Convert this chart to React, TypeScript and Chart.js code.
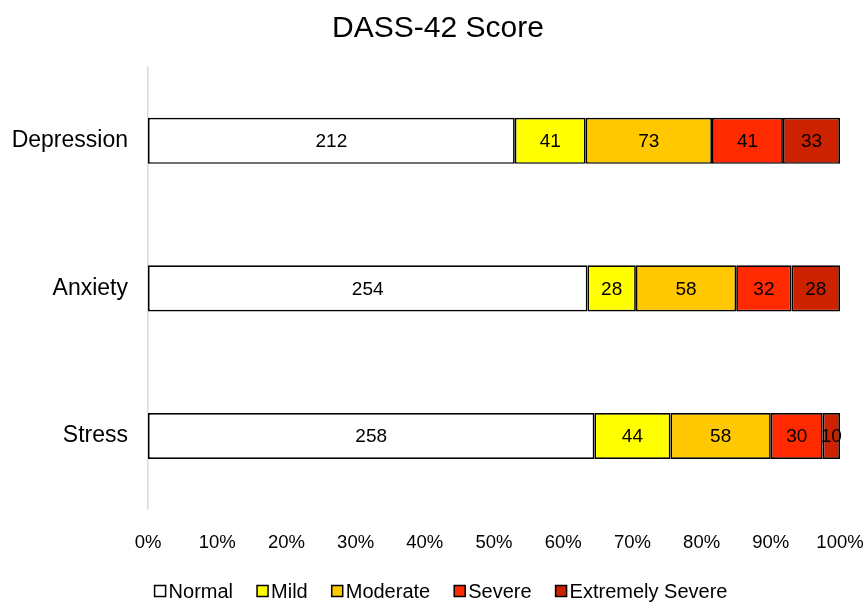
import React, { useEffect, useRef } from "react";
import { Chart, registerables } from "chart.js";

Chart.register(...registerables);

const titleText = "DASS-42 Score";
const categories = ["Depression", "Anxiety", "Stress"];
const seriesNames = ["Normal", "Mild", "Moderate", "Severe", "Extremely Severe"];
const normal = [212, 254, 258];
const mild = [41, 28, 44];
const moderate = [73, 58, 58];
const severe = [41, 32, 30];
const extremelySevere = [33, 28, 10];
const seriesColors = ["#FFFFFF", "#FFFF00", "#FFC800", "#FF2A00", "#CC2200"];
const xTicks = [0, 10, 20, 30, 40, 50, 60, 70, 80, 90, 100];

const FONT = "'Liberation Sans', Arial, Helvetica, sans-serif";

export default function App() {
  const ref = useRef<HTMLCanvasElement>(null);

  useEffect(() => {
    const series = [normal, mild, moderate, severe, extremelySevere];
    const totals = categories.map((_, i) => series.reduce((s, arr) => s + arr[i], 0));

    const labelPlugin = {
      id: "valueLabels",
      afterDatasetsDraw(chart: any) {
        const ctx = chart.ctx;
        ctx.save();
        ctx.font = `19px ${FONT}`;
        ctx.fillStyle = "#000";
        ctx.textAlign = "center";
        ctx.textBaseline = "middle";
        chart.data.datasets.forEach((ds: any, di: number) => {
          const meta = chart.getDatasetMeta(di);
          meta.data.forEach((el: any, i: number) => {
            const cx = (el.x + el.base) / 2;
            ctx.fillText(String(ds.raw[i]), cx, el.y + 1);
          });
        });
        ctx.restore();
      },
    };

    const titleLegendPlugin = {
      id: "titleAndLegend",
      afterDraw(chart: any) {
        const ctx = chart.ctx;
        ctx.save();
        // title
        ctx.font = `30px ${FONT}`;
        ctx.fillStyle = "#000";
        ctx.textAlign = "center";
        ctx.textBaseline = "middle";
        ctx.fillText(titleText, 438, 29);
        // legend
        ctx.font = `20px ${FONT}`;
        ctx.textAlign = "left";
        const box = 11;
        const gap = 3;
        const spacing = 24;
        const widths = seriesNames.map((n) => ctx.measureText(n).width);
        const total =
          widths.reduce((a, b) => a + b, 0) + seriesNames.length * (box + gap) + (seriesNames.length - 1) * spacing;
        let x = 441 - total / 2;
        const y = 592;
        seriesNames.forEach((n, i) => {
          ctx.fillStyle = seriesColors[i];
          ctx.fillRect(x, y - box / 2 - 1, box, box);
          ctx.strokeStyle = "#000";
          ctx.lineWidth = 1.5;
          ctx.strokeRect(x, y - box / 2 - 1, box, box);
          ctx.fillStyle = "#000";
          ctx.fillText(n, x + box + gap, y);
          x += box + gap + widths[i] + spacing;
        });
        ctx.restore();
      },
    };

    const chart = new Chart(ref.current!, {
      type: "bar",
      data: {
        labels: categories,
        datasets: series.map((arr, si) => ({
          label: seriesNames[si],
          data: arr.map((v, i) => (v / totals[i]) * 100),
          raw: arr,
          backgroundColor: seriesColors[si],
          borderColor: "#000000",
          borderWidth: 1.7,
          borderSkipped: false,
          barPercentage: 0.624,
          categoryPercentage: 0.5,
        })) as any,
      },
      options: {
        indexAxis: "y",
        animation: false,
        responsive: false,
        maintainAspectRatio: false,
        layout: { padding: { left: 0, right: 27, top: 67, bottom: 26 } },
        scales: {
          x: {
            stacked: true,
            min: 0,
            max: 100,
            grid: { display: false, drawTicks: false },
            border: { display: false },
            afterBuildTicks(scale: any) {
              scale.ticks = xTicks.map((v) => ({ value: v }));
            },
            afterFit(scale: any) {
              scale.paddingLeft = 0;
              scale.paddingRight = 0;
            },
            ticks: {
              padding: 22,
              color: "#000",
              font: { family: FONT, size: 18.5 },
              callback: (v: any) => v + "%",
              maxRotation: 0,
              autoSkip: false,
            },
          },
          y: {
            stacked: true,
            grid: { display: false, drawTicks: false },
            border: { display: true, color: "#D9D9D9", width: 1.5 },
            afterFit(scale: any) {
              scale.width = 148;
            },
            ticks: {
              padding: 20,
              color: "#000",
              font: { family: FONT, size: 23 },
            },
          },
        },
        plugins: {
          title: { display: false },
          legend: { display: false },
          tooltip: { enabled: false },
        },
      } as any,
      plugins: [labelPlugin, titleLegendPlugin],
    });
    return () => chart.destroy();
  }, []);

  return (
    <div style={{ position: "absolute", left: 0, top: 0, width: 867, height: 602, background: "#fff" }}>
      <canvas ref={ref} width={867} height={602} style={{ width: 867, height: 602 }} />
    </div>
  );
}
